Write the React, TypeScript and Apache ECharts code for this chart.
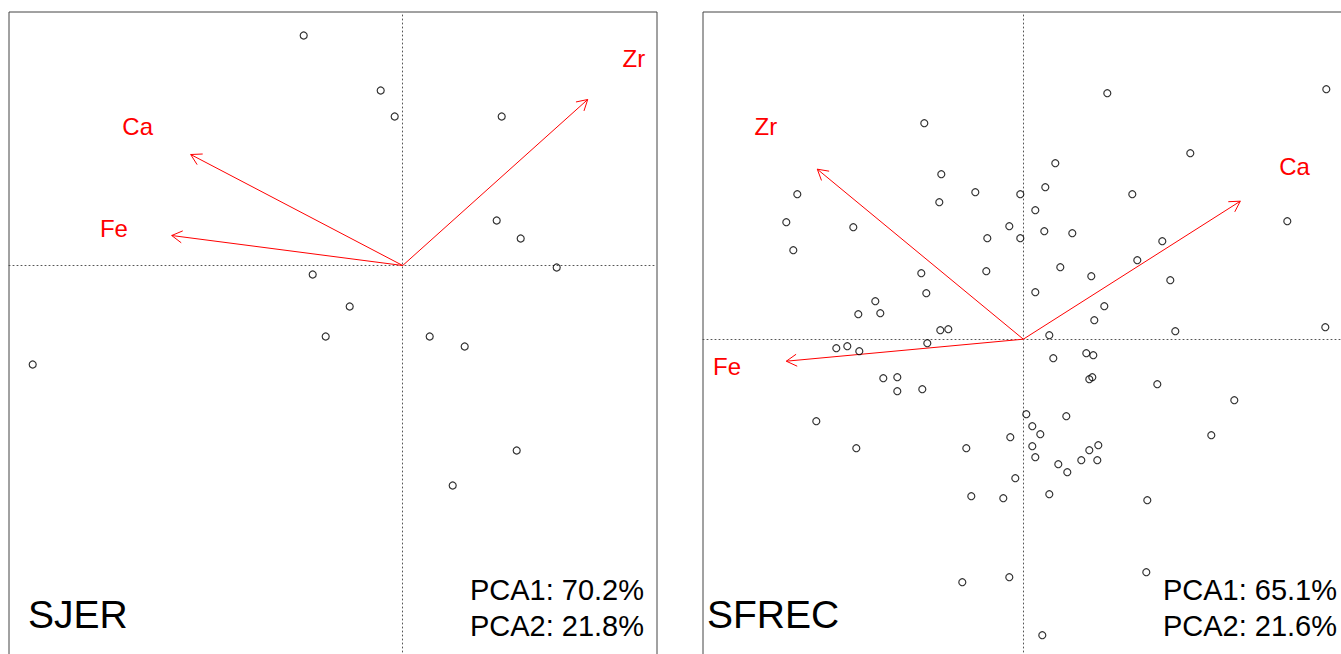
import React, { useEffect, useRef } from "react";
import * as echarts from "echarts";

// Site names and explained variance (%) for PC1 / PC2
const sites = ["SJER", "SFREC"];
const varianceSJER = [70.2, 21.8];
const varianceSFREC = [65.1, 21.6];

// Variable names for loadings
const varsSJER = ["Zr", "Ca", "Fe"];
const loadingsSJER: number[][] = [
  [1.85, 1.66],
  [-2.12, 1.11],
  [-2.31, 0.3],
];
const varsSFREC = ["Zr", "Ca", "Fe"];
const loadingsSFREC: number[][] = [
  [-2.06, 1.7],
  [2.17, 1.38],
  [-2.37, -0.22],
];

// PCA scores
const scoresSJER: number[][] = [
  [-0.99, 2.3], [-0.22, 1.75], [-0.08, 1.49], [0.99, 1.49], [0.94, 0.45],
  [1.18, 0.27], [1.54, -0.02], [-0.9, -0.09], [-0.53, -0.41], [-0.77, -0.71],
  [0.27, -0.71], [0.62, -0.81], [-3.7, -0.99], [1.14, -1.85], [0.5, -2.2],
];

const scoresSFREC: number[][] = [
  [-0.99, 2.16], [-0.82, 1.65], [-0.48, 1.47], [-0.03, 1.45], [-2.26, 1.45],
  [-0.84, 1.37], [-2.37, 1.17], [-1.7, 1.12], [-0.14, 1.13], [-0.36, 1.01],
  [-0.03, 1.01], [-2.3, 0.89], [-1.02, 0.66], [-0.37, 0.68], [-0.97, 0.46],
  [-1.48, 0.38], [-1.65, 0.25], [-1.43, 0.26], [-0.83, 0.09], [-0.75, 0.1],
  [0.84, 2.46], [3.03, 2.5], [1.67, 1.86], [0.32, 1.76], [0.22, 1.52],
  [1.09, 1.45], [0.12, 1.29], [0.21, 1.08], [0.49, 1.06], [2.64, 1.18],
  [1.39, 0.98], [1.14, 0.79], [0.37, 0.72], [0.68, 0.63], [1.47, 0.59],
  [0.12, 0.47], [0.81, 0.33], [0.71, 0.19], [0.26, 0.04], [1.52, 0.08],
  [3.02, 0.12], [-0.96, -0.04], [-1.87, -0.09], [-1.76, -0.07], [-1.64, -0.12],
  [-1.4, -0.39], [-1.26, -0.38], [-1.26, -0.52], [-1.01, -0.5], [-2.07, -0.82],
  [-0.13, -0.98], [-1.67, -1.09], [-0.57, -1.09], [-0.08, -1.39], [-0.52, -1.57],
  [-0.2, -1.59], [-0.14, -2.38], [-0.61, -2.43], [0.3, -0.19], [0.63, -0.14],
  [0.7, -0.16], [0.66, -0.4], [0.69, -0.38], [1.34, -0.45], [2.11, -0.61],
  [0.03, -0.75], [0.43, -0.77], [0.09, -0.87], [0.17, -0.95], [1.88, -0.96],
  [0.09, -1.07], [0.66, -1.11], [0.75, -1.06], [0.12, -1.18], [0.35, -1.25],
  [0.58, -1.21], [0.74, -1.21], [0.44, -1.33], [0.26, -1.55], [1.24, -1.61],
  [1.23, -2.33], [0.19, -2.96],
];

const FONT = "'Liberation Sans', Arial, Helvetica, sans-serif";

function axisDef(min: number, max: number, idx: number) {
  return {
    type: "value",
    gridIndex: idx,
    min,
    max,
    axisLabel: { show: false },
    axisTick: { show: false },
    splitLine: { show: false },
    axisLine: {
      show: true,
      onZero: true,
      lineStyle: { color: "#555", width: 1, type: [1, 3] },
    },
  };
}

function arrowSeries(idx: number, loadings: number[][], names: string[]) {
  return {
    type: "custom",
    xAxisIndex: idx,
    yAxisIndex: idx,
    silent: true,
    data: loadings,
    renderItem: (params: any, api: any) => {
      const x = api.value(0);
      const y = api.value(1);
      const o = api.coord([0, 0]);
      const t = api.coord([x, y]);
      const l = api.coord([x * 1.25, y * 1.25]);
      const ang = Math.atan2(t[1] - o[1], t[0] - o[0]);
      const len = 12;
      const a = Math.PI / 6;
      const p1 = [t[0] - len * Math.cos(ang - a), t[1] - len * Math.sin(ang - a)];
      const p2 = [t[0] - len * Math.cos(ang + a), t[1] - len * Math.sin(ang + a)];
      return {
        type: "group",
        children: [
          {
            type: "line",
            shape: { x1: o[0], y1: o[1], x2: t[0], y2: t[1] },
            style: { stroke: "#ff0000", lineWidth: 1 },
          },
          {
            type: "polyline",
            shape: { points: [p1, t, p2] },
            style: { stroke: "#ff0000", fill: null, lineWidth: 1 },
          },
          {
            type: "text",
            x: l[0],
            y: l[1],
            style: {
              text: names[params.dataIndex],
              fill: "#ff0000",
              fontSize: 24,
              fontFamily: FONT,
              align: "center",
              verticalAlign: "middle",
              textAlign: "center",
              textVerticalAlign: "middle",
            },
          },
        ],
      };
    },
  };
}

function scatterSeries(idx: number, data: number[][]) {
  return {
    type: "scatter",
    xAxisIndex: idx,
    yAxisIndex: idx,
    symbol: "circle",
    symbolSize: 7,
    silent: true,
    data,
    itemStyle: { color: "rgba(0,0,0,0)", borderColor: "#000", borderWidth: 1.2 },
  };
}

function txt(text: string, x: number, y: number, size: number, align: string) {
  return {
    type: "text",
    x,
    y,
    silent: true,
    style: {
      text,
      fill: "#000",
      fontSize: size,
      fontFamily: FONT,
      align,
      verticalAlign: "middle",
      textAlign: align,
      textVerticalAlign: "middle",
    },
  };
}

export default function App() {
  const ref = useRef<HTMLDivElement>(null);
  useEffect(() => {
    if (!ref.current) return;
    const chart = echarts.init(ref.current, null, { renderer: "svg" });
    const option: any = {
      animation: false,
      backgroundColor: "#fff",
      grid: [
        { left: 9, top: 12, width: 648, height: 668, show: true, borderColor: "#444", borderWidth: 1, backgroundColor: "transparent" },
        { left: 703, top: 12, width: 647, height: 668, show: true, borderColor: "#444", borderWidth: 1, backgroundColor: "transparent" },
      ],
      xAxis: [axisDef(-3.937, 2.543, 0), axisDef(-3.203, 3.267, 1)],
      yAxis: [axisDef(-4.145, 2.535, 0), axisDef(-3.408, 3.272, 1)],
      series: [
        scatterSeries(0, scoresSJER),
        arrowSeries(0, loadingsSJER, varsSJER),
        scatterSeries(1, scoresSFREC),
        arrowSeries(1, loadingsSFREC, varsSFREC),
      ],
      graphic: [
        txt(sites[0], 28, 614, 39, "left"),
        txt(`PCA1: ${varianceSJER[0].toFixed(1)}%`, 644, 590, 29, "right"),
        txt(`PCA2: ${varianceSJER[1].toFixed(1)}%`, 644, 625.5, 29, "right"),
        txt(sites[1], 707, 614, 39, "left"),
        txt(`PCA1: ${varianceSFREC[0].toFixed(1)}%`, 1337, 590, 29, "right"),
        txt(`PCA2: ${varianceSFREC[1].toFixed(1)}%`, 1337, 625.5, 29, "right"),
      ],
    };
    chart.setOption(option);
    return () => chart.dispose();
  }, []);
  return (
    <div style={{ position: "fixed", left: 0, top: 0, width: 1341, height: 654, overflow: "hidden", background: "#fff" }}>
      <div ref={ref} style={{ width: 1360, height: 700 }} />
    </div>
  );
}
